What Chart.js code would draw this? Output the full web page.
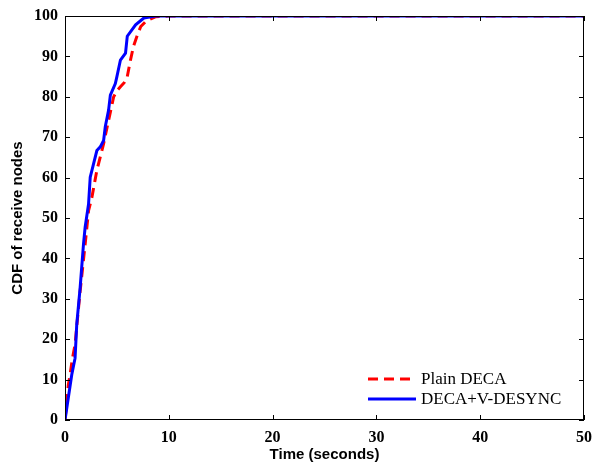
<!DOCTYPE html>
<html>
<head>
<meta charset="utf-8">
<script src="https://cdn.jsdelivr.net/npm/chart.js@4/dist/chart.umd.min.js"></script>
<style>
  html, body { margin: 0; padding: 0; background: #fff; }
  #wrap { width: 594px; height: 468px; }
</style>
</head>
<body>
<div id="wrap"><canvas id="cdfChart"></canvas></div>
<script>
// values
const seriesNames = ['Plain DECA', 'DECA+V-DESYNC']

const timePlain = [0, 0.32, 0.49, 0.7, 0.97, 1.2, 1.46, 1.94, 2.27, 2.59, 3.07, 3.4, 3.72, 4.2, 4.69, 5.0, 5.34, 5.7, 6.0, 6.3, 6.6, 7.0, 7.3, 7.8, 8.7, 10, 50]
const cdfPlain = [0, 8.7, 11.2, 15, 18.7, 25, 31.9, 43.5, 51.8, 55.1, 61.8, 65.1, 68.4, 74.2, 80, 81.5, 82.5, 83.5, 85, 89, 92.5, 95.5, 97.4, 98.7, 99.8, 100, 100]

const timeVdesync = [0, 0.65, 0.97, 1.13, 1.46, 1.78, 1.94, 2.27, 2.43, 2.75, 3.07, 3.4, 3.72, 3.88, 4.2, 4.37, 4.85, 5.0, 5.34, 5.83, 6.0, 6.8, 7.6, 8.7, 50]
const cdfVdesync = [0, 11.2, 15.3, 23.6, 32.8, 43.5, 47.7, 53.5, 60.1, 63.4, 66.7, 67.6, 69.2, 72.6, 76.7, 80.4, 83.3, 85, 89.1, 90.8, 95, 97.8, 99.5, 100, 100]

const xTicks = [0, 10, 20, 30, 40, 50]
const yTicks = [0, 10, 20, 30, 40, 50, 60, 70, 80, 90, 100]

function toPoints(xs, ys) {
  return xs.map((x, i) => ({ x: x, y: ys[i] }))
}

// box, inward ticks on all four sides, and the legend
const framePlugin = {
  id: 'frame',
  afterDraw(chart) {
    const ctx = chart.ctx
    const a = chart.chartArea
    const xs = chart.scales.x
    const ys = chart.scales.y
    const tl = 5
    ctx.save()
    ctx.strokeStyle = '#000'
    ctx.lineWidth = 1
    ctx.strokeRect(a.left + 0.5, a.top + 0.5, a.right - a.left - 1, a.bottom - a.top - 1)
    ctx.beginPath()
    xTicks.forEach((v) => {
      const px = Math.round(xs.getPixelForValue(v)) + 0.5
      ctx.moveTo(px, a.bottom); ctx.lineTo(px, a.bottom - tl)
      ctx.moveTo(px, a.top); ctx.lineTo(px, a.top + tl)
    })
    yTicks.forEach((v) => {
      const py = Math.round(ys.getPixelForValue(v)) + 0.5
      ctx.moveTo(a.left, py); ctx.lineTo(a.left + tl, py)
      ctx.moveTo(a.right, py); ctx.lineTo(a.right - tl, py)
    })
    ctx.stroke()

    // legend, bottom right inside the plot
    const lx0 = 368, lx1 = 416, tx = 421
    const rows = [379, 399]
    chart.data.datasets.forEach((ds, i) => {
      ctx.beginPath()
      ctx.strokeStyle = ds.borderColor
      ctx.lineWidth = ds.borderWidth
      ctx.setLineDash(ds.borderDash || [])
      ctx.moveTo(lx0, rows[i]); ctx.lineTo(lx1, rows[i])
      ctx.stroke()
      ctx.setLineDash([])
      ctx.fillStyle = '#000'
      ctx.font = '17px "Liberation Serif"'
      ctx.textBaseline = 'middle'
      ctx.textAlign = 'left'
      ctx.fillText(ds.label, tx, rows[i] + 1)
    })
    ctx.restore()
  }
}

const ctx = document.getElementById('cdfChart').getContext('2d')
const chart = new Chart(ctx, {
  type: 'scatter',
  data: {
    datasets: [
      {
        label: seriesNames[0],
        data: toPoints(timePlain, cdfPlain),
        showLine: true,
        borderColor: '#ff0000',
        backgroundColor: '#ff0000',
        borderWidth: 3,
        borderDash: [10, 6],
        pointRadius: 0,
        tension: 0,
        order: 2
      },
      {
        label: seriesNames[1],
        data: toPoints(timeVdesync, cdfVdesync),
        showLine: true,
        borderColor: '#0000ff',
        backgroundColor: '#0000ff',
        borderWidth: 3,
        pointRadius: 0,
        tension: 0,
        order: 1
      }
    ]
  },
  options: {
    responsive: true,
    maintainAspectRatio: false,
    animation: false,
    devicePixelRatio: 1,
    layout: { padding: { top: 16, right: 10, left: 0, bottom: 0 } },
    plugins: {
      legend: { display: false },
      tooltip: { enabled: false }
    },
    scales: {
      x: {
        type: 'linear',
        min: 0,
        max: 50,
        afterFit(scale) {
          scale.height = 48
          scale.paddingLeft = 0
          scale.paddingRight = 0
        },
        afterBuildTicks(scale) { scale.ticks = xTicks.map((v) => ({ value: v })) },
        grid: { display: false, drawTicks: false },
        border: { display: false },
        ticks: {
          color: '#000',
          padding: 8,
          maxRotation: 0,
          font: { family: 'Liberation Serif', weight: 'bold', size: 16 }
        },
        title: {
          display: true,
          text: 'Time (seconds)',
          color: '#000',
          padding: { top: 0, bottom: 4 },
          font: { family: 'Liberation Sans', weight: 'bold', size: 15 }
        }
      },
      y: {
        type: 'linear',
        min: 0,
        max: 100,
        afterFit(scale) {
          scale.width = 65
          scale.paddingTop = 0
          scale.paddingBottom = 0
        },
        afterBuildTicks(scale) { scale.ticks = yTicks.map((v) => ({ value: v })) },
        grid: { display: false, drawTicks: false },
        border: { display: false },
        ticks: {
          color: '#000',
          padding: 7,
          font: { family: 'Liberation Serif', weight: 'bold', size: 16 }
        },
        title: {
          display: true,
          text: 'CDF of receive nodes',
          color: '#000',
          padding: { top: 9, bottom: 0 },
          font: { family: 'Liberation Sans', weight: 'bold', size: 15 }
        }
      }
    }
  },
  plugins: [framePlugin]
})
</script>
</body>
</html>
